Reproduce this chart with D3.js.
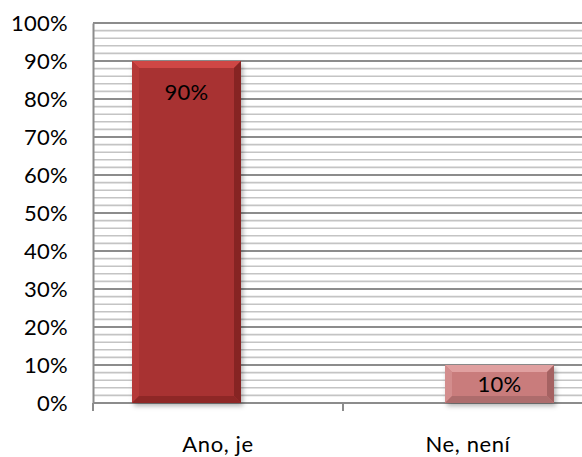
<!DOCTYPE html>
<html>
<head>
<meta charset="utf-8">
<script src="https://cdn.jsdelivr.net/npm/d3@7"></script>
<style>
  html, body { margin: 0; padding: 0; background: #fff; }
  svg text { font-family: Lato, "Open Sans", sans-serif; fill: #000; }
</style>
</head>
<body>
<svg id="chart" width="582" height="457"></svg>
<script>
const categories = ["Ano, je", "Ne, není"];
const values = [0.9, 0.1];
const labels = ["90%", "10%"];
const yTicks = [0, 0.1, 0.2, 0.3, 0.4, 0.5, 0.6, 0.7, 0.8, 0.9, 1.0];
const minorTicks = d3.range(0, 51).map(i => i / 50);

const faceColors = ["#a83130", "#c97c7c"];
const topColors = ["#cf4745", "#e0a0a0"];
const leftColors = ["#b53938", "#d38d8d"];
const rightColors = ["#862423", "#a56262"];
const bottomColors = ["#8e2726", "#ad6c6c"];

const svg = d3.select("#chart");
const mLeft = 93, mTop = 23, plotW = 500, plotH = 380;

const y = d3.scaleLinear().domain([0, 1]).range([mTop + plotH, mTop]);
const x = d3.scaleBand().domain(categories).range([mLeft, mLeft + plotW]).padding(0);
const seriesPos = d3.scalePoint().domain([0, 1]).range([-31.5, 31.5]);
const barW = 109;

const defs = svg.append("defs");
const f = defs.append("filter").attr("id", "shadow").attr("x", "-20%").attr("y", "-20%").attr("width", "150%").attr("height", "150%");
f.append("feDropShadow").attr("dx", 2).attr("dy", 3).attr("stdDeviation", 2.5).attr("flood-color", "#000").attr("flood-opacity", 0.3);

// minor gridlines
svg.append("g").selectAll("line").data(minorTicks.filter(t => Math.round(t * 50) % 5 !== 0))
  .join("line")
  .attr("x1", mLeft).attr("x2", mLeft + plotW)
  .attr("y1", d => y(d)).attr("y2", d => y(d))
  .attr("stroke", "#c4c4c4").attr("stroke-width", 1.6);

// major gridlines
svg.append("g").selectAll("line").data(yTicks)
  .join("line")
  .attr("x1", mLeft).attr("x2", mLeft + plotW)
  .attr("y1", d => y(d)).attr("y2", d => y(d))
  .attr("stroke", "#8c8c8c").attr("stroke-width", 2);

// y axis
const yAxis = d3.axisLeft(y).tickValues(yTicks).tickSize(0).tickPadding(25)
  .tickFormat(d3.format(".0%"));
const gy = svg.append("g").attr("transform", `translate(${mLeft},0)`).call(yAxis);
gy.select(".domain").attr("stroke", "#8c8c8c").attr("stroke-width", 2);
gy.selectAll("text").attr("font-size", 22).attr("letter-spacing", 0.3).attr("font-family", "Lato, sans-serif");

// x axis
const xAxis = d3.axisBottom(x).tickSize(0).tickPadding(33);
const gx = svg.append("g").attr("transform", `translate(0,${mTop + plotH})`).call(xAxis);
gx.select(".domain").remove();
gx.selectAll("text").attr("font-size", 22).attr("letter-spacing", 0.6).attr("font-family", "Lato, sans-serif");
// category boundary ticks
svg.append("g").selectAll("line").data(categories.map(c => x(c)))
  .join("line")
  .attr("x1", d => d).attr("x2", d => d)
  .attr("y1", mTop + plotH).attr("y2", mTop + plotH + 8)
  .attr("stroke", "#8c8c8c").attr("stroke-width", 2);

// bars
const bars = categories.map((c, i) => {
  const cx = x(c) + x.bandwidth() / 2 + seriesPos(i);
  return { i, x0: cx - barW / 2, x1: cx + barW / 2, y0: y(values[i]), y1: y(0), label: labels[i] };
});

const bevel = 7;
const bg = svg.append("g");
bars.forEach(b => {
  const g = bg.append("g");
  g.append("rect").attr("x", b.x0).attr("y", b.y0).attr("width", b.x1 - b.x0).attr("height", b.y1 - b.y0)
    .attr("fill", faceColors[b.i]).attr("filter", "url(#shadow)");
  const bv = Math.min(bevel, (b.y1 - b.y0) / 3);
  const poly = (pts, col) => g.append("polygon").attr("points", pts.map(p => p.join(",")).join(" ")).attr("fill", col);
  poly([[b.x0, b.y0], [b.x1, b.y0], [b.x1 - bv, b.y0 + bv], [b.x0 + bv, b.y0 + bv]], topColors[b.i]);
  poly([[b.x0, b.y0], [b.x0 + bv, b.y0 + bv], [b.x0 + bv, b.y1 - bv], [b.x0, b.y1]], leftColors[b.i]);
  poly([[b.x1, b.y0], [b.x1, b.y1], [b.x1 - bv, b.y1 - bv], [b.x1 - bv, b.y0 + bv]], rightColors[b.i]);
  poly([[b.x0, b.y1], [b.x0 + bv, b.y1 - bv], [b.x1 - bv, b.y1 - bv], [b.x1, b.y1]], bottomColors[b.i]);
  g.append("text").attr("x", (b.x0 + b.x1) / 2)
    .attr("y", b.i === 0 ? b.y0 + 39 : (b.y0 + b.y1) / 2 + 8)
    .attr("text-anchor", "middle").attr("font-size", 22).attr("letter-spacing", 0.3).text(b.label);
});
</script>
</body>
</html>
